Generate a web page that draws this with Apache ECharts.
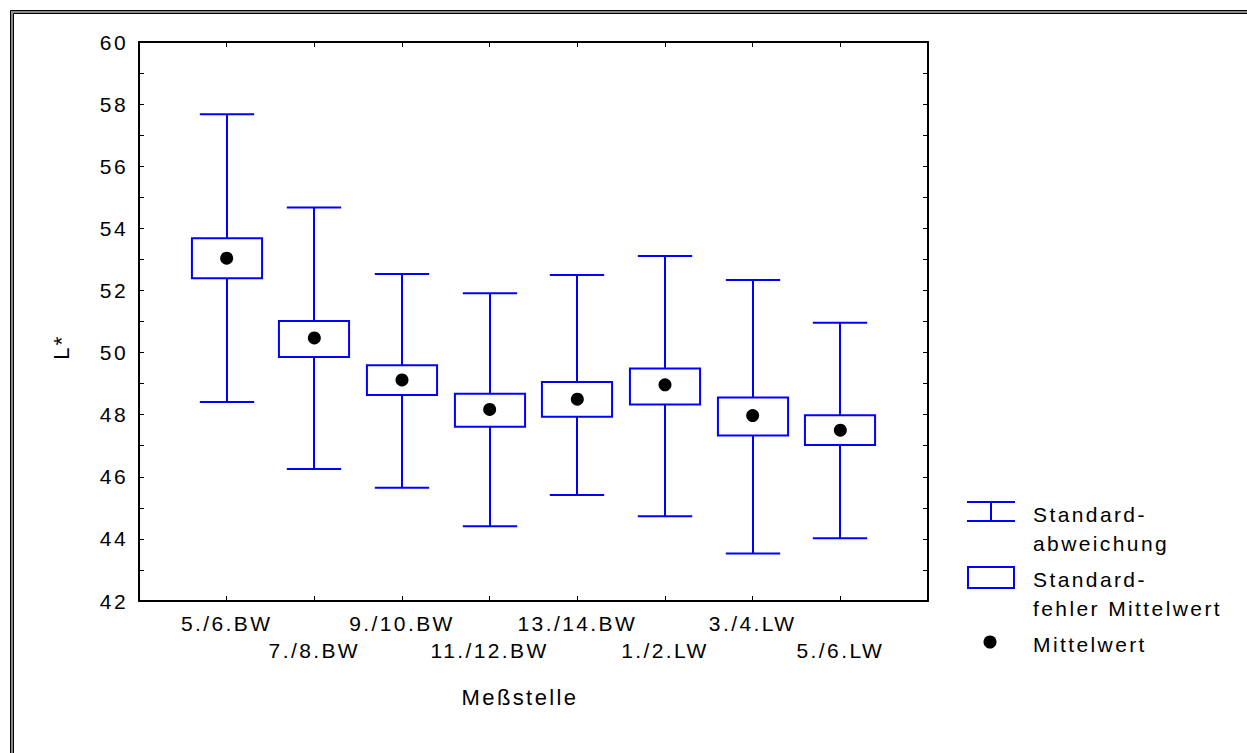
<!DOCTYPE html>
<html><head><meta charset="utf-8">
<script src="https://cdn.jsdelivr.net/npm/echarts@6/dist/echarts.min.js"></script>
<style>
html,body{margin:0;padding:0;background:#fff;overflow:hidden;}
#c{width:1247px;height:753px;}
#c text{letter-spacing:2.4px;}
</style></head><body><div id="c"></div>
<script>
const categories = ['5./6.BW','7./8.BW','9./10.BW','11./12.BW','13./14.BW','1./2.LW','3./4.LW','5./6.LW'];
const meanValues = [53.04, 50.47, 49.12, 48.17, 48.50, 48.96, 47.97, 47.50];
const seLower    = [52.39, 49.86, 48.63, 47.61, 47.93, 48.33, 47.33, 47.02];
const seUpper    = [53.68, 51.02, 49.59, 48.67, 49.05, 49.49, 48.55, 47.98];
const sdLower    = [48.41, 46.25, 45.65, 44.41, 45.41, 44.73, 43.53, 44.02];
const sdUpper    = [57.67, 54.67, 52.53, 51.91, 52.50, 53.11, 52.34, 50.96];
const yTickLabels = [42, 44, 46, 48, 50, 52, 54, 56, 58, 60];
const legendLabels = ['Standard-\nabweichung', 'Standard-\nfehler Mittelwert', 'Mittelwert'];
const xTitle = 'Meßstelle';
const yTitle = 'L*';

const FONT = '"Liberation Sans", Arial, sans-serif';
const FS = 21;
const TFS = 22;
const BLUE = '#0000ff';

const chart = echarts.init(document.getElementById('c'), null, {renderer: 'svg'});

const boxData = categories.map((c, i) => [i + 1, sdLower[i], sdUpper[i], seLower[i], seUpper[i]]);
const meanData = categories.map((c, i) => [i + 1, meanValues[i]]);

function catLabel(parity) {
  return function (v) {
    const i = Math.round(v) - 1;
    if (i < 0 || i >= categories.length) return '';
    return (i % 2 === parity) ? categories[i] : '';
  };
}

const baseX = {type: 'value', min: 0, max: categories.length + 1, interval: 1, splitLine: {show: false}};

const option = {
  animation: false,
  backgroundColor: '#fff',
  textStyle: {fontFamily: FONT},
  grid: {left: 139, top: 42, right: 319, bottom: 152, containLabel: false},
  xAxis: [
    Object.assign({}, baseX, {
      position: 'bottom',
      axisLine: {show: true, onZero: false, lineStyle: {color: '#000', width: 2}},
      axisTick: {show: true, inside: true, length: 5, lineStyle: {color: '#000', width: 1}},
      axisLabel: {show: true, margin: 12, color: '#000', fontSize: FS, fontFamily: FONT, formatter: catLabel(0)}
    }),
    Object.assign({}, baseX, {
      position: 'bottom', offset: 27,
      axisLine: {show: false},
      axisTick: {show: false},
      axisLabel: {show: true, margin: 12, color: '#000', fontSize: FS, fontFamily: FONT, formatter: catLabel(1)}
    }),
    Object.assign({}, baseX, {
      position: 'top',
      axisLine: {show: true, onZero: false, lineStyle: {color: '#000', width: 2}},
      axisTick: {show: true, inside: true, length: 5, lineStyle: {color: '#000', width: 1}},
      axisLabel: {show: false}
    })
  ],
  yAxis: [
    {
      type: 'value', min: 42, max: 60, interval: 1, position: 'left',
      splitLine: {show: false},
      axisLine: {show: true, onZero: false, lineStyle: {color: '#000', width: 2}},
      axisTick: {show: true, inside: true, length: 5, lineStyle: {color: '#000', width: 1}},
      axisLabel: {show: true, margin: 11, color: '#000', fontSize: FS, fontFamily: FONT,
        formatter: v => yTickLabels.indexOf(Math.round(v)) >= 0 && Math.abs(v - Math.round(v)) < 1e-6 ? String(Math.round(v)) : ''}
    },
    {
      type: 'value', min: 42, max: 60, interval: 1, position: 'right',
      splitLine: {show: false},
      axisLine: {show: true, onZero: false, lineStyle: {color: '#000', width: 2}},
      axisTick: {show: true, inside: true, length: 5, lineStyle: {color: '#000', width: 1}},
      axisLabel: {show: false}
    }
  ],
  series: [
    {
      type: 'custom', name: 'box', xAxisIndex: 0, yAxisIndex: 0,
      data: boxData, encode: {x: 0, y: [1, 2, 3, 4]},
      renderItem: function (params, api) {
        const x = api.value(0);
        const pSdL = api.coord([x, api.value(1)]);
        const pSdH = api.coord([x, api.value(2)]);
        const pSeL = api.coord([x, api.value(3)]);
        const pSeH = api.coord([x, api.value(4)]);
        const unit = api.size([1, 0])[0];
        const bw = unit * 0.8, cw = unit * 0.62;
        const st = {stroke: BLUE, lineWidth: 2, fill: null};
        const cx = Math.round(pSdL[0]);
        return {
          type: 'group',
          children: [
            {type: 'line', shape: {x1: cx, y1: pSdH[1], x2: cx, y2: pSeH[1]}, style: st},
            {type: 'line', shape: {x1: cx, y1: pSeL[1], x2: cx, y2: pSdL[1]}, style: st},
            {type: 'line', shape: {x1: cx - cw / 2, y1: pSdH[1], x2: cx + cw / 2, y2: pSdH[1]}, style: st},
            {type: 'line', shape: {x1: cx - cw / 2, y1: pSdL[1], x2: cx + cw / 2, y2: pSdL[1]}, style: st},
            {type: 'rect', shape: {x: cx - bw / 2, y: pSeH[1], width: bw, height: pSeL[1] - pSeH[1]},
              style: {stroke: BLUE, lineWidth: 2, fill: '#fff'}}
          ]
        };
      },
      z: 2
    },
    {
      type: 'scatter', name: 'Mittelwert', xAxisIndex: 0, yAxisIndex: 0,
      data: meanData, symbol: 'circle', symbolSize: 13,
      itemStyle: {color: '#000', opacity: 1}, z: 3
    }
  ],
  graphic: [
    {type: 'rect', shape: {x: 10.5, y: 10.5, width: 1400, height: 900}, style: {fill: null, stroke: '#000', lineWidth: 1}, silent: true},
    {type: 'rect', shape: {x: 12, y: 12, width: 1400, height: 900}, style: {fill: null, stroke: '#8a8a8a', lineWidth: 2}, silent: true},
    {type: 'rect', shape: {x: 13.5, y: 13.5, width: 1400, height: 900}, style: {fill: null, stroke: '#000', lineWidth: 1}, silent: true},
    {type: 'text', x: 520, y: 697, style: {text: xTitle, font: TFS + 'px ' + FONT, fill: '#000', textAlign: 'center', textVerticalAlign: 'middle'}},
    {type: 'text', x: 61, y: 347, rotation: Math.PI / 2, style: {text: yTitle, font: TFS + 'px ' + FONT, fill: '#000', textAlign: 'center', textVerticalAlign: 'middle'}},
    {type: 'group', children: [
      {type: 'line', shape: {x1: 967, y1: 502, x2: 1015, y2: 502}, style: {stroke: BLUE, lineWidth: 2}},
      {type: 'line', shape: {x1: 967, y1: 521, x2: 1015, y2: 521}, style: {stroke: BLUE, lineWidth: 2}},
      {type: 'line', shape: {x1: 991, y1: 502, x2: 991, y2: 521}, style: {stroke: BLUE, lineWidth: 2}},
      {type: 'text', x: 1033, y: 500, style: {text: legendLabels[0], font: FS + 'px ' + FONT, fill: '#000', lineHeight: 29, textAlign: 'left', textVerticalAlign: 'top'}},
      {type: 'rect', shape: {x: 968, y: 567, width: 46, height: 21}, style: {stroke: BLUE, lineWidth: 2, fill: '#fff'}},
      {type: 'text', x: 1033, y: 565, style: {text: legendLabels[1], font: FS + 'px ' + FONT, fill: '#000', lineHeight: 29, textAlign: 'left', textVerticalAlign: 'top'}},
      {type: 'circle', shape: {cx: 990, cy: 642, r: 6.5}, style: {fill: '#000'}},
      {type: 'text', x: 1033, y: 644, style: {text: legendLabels[2], font: FS + 'px ' + FONT, fill: '#000', textAlign: 'left', textVerticalAlign: 'middle'}}
    ]}
  ]
};
chart.setOption(option);
</script></body></html>
